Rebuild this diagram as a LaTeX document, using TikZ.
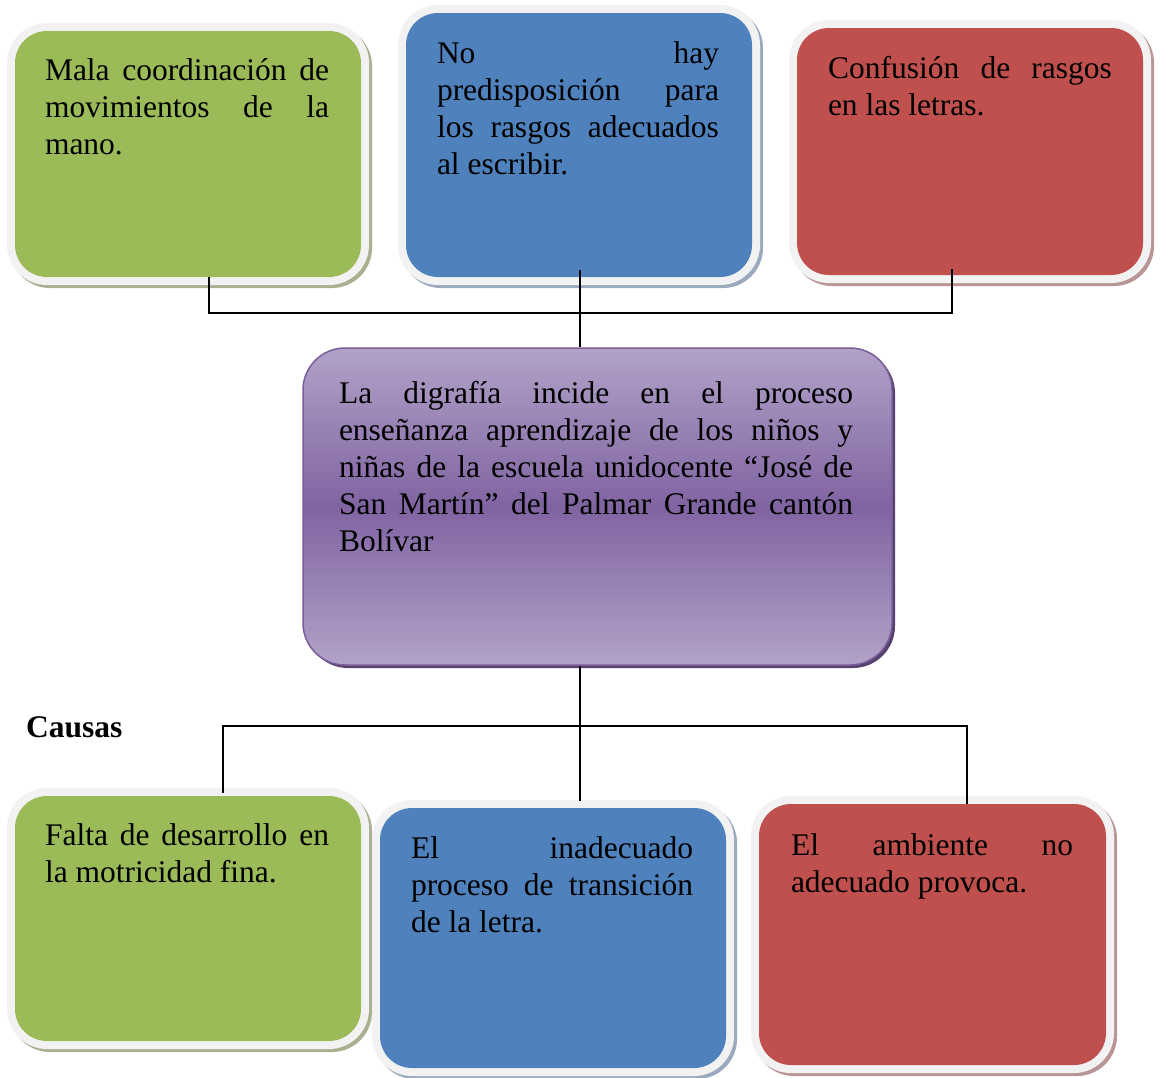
\documentclass[tikz,border=0pt]{standalone}
\usepackage{fontspec}
\setmainfont{Liberation Serif}
\definecolor{gr}{HTML}{9BBB59}
\definecolor{bl}{HTML}{4F81BD}
\definecolor{rd}{HTML}{C0504D}
\definecolor{halo}{HTML}{F2F2F2}
\definecolor{grs}{HTML}{A9B091}
\definecolor{bls}{HTML}{9AA9BE}
\definecolor{rds}{HTML}{BA9595}
\definecolor{pl}{HTML}{B2A2C8}
\definecolor{pd}{HTML}{8064A2}
\definecolor{pb}{HTML}{7A5E9A}
\definecolor{ps}{HTML}{57416F}
\newcommand\J[2]{\makebox[#1][s]{\spaceskip=.25em plus 1fil\relax #2}}
\newcommand\fs{\spaceskip=.25em\relax\xspaceskip=.25em\relax\rule{0pt}{30pt}}
\begin{document}
\begin{tikzpicture}[x=1pt,y=-1pt,
  card/.style 2 args={rectangle, rounded corners=32pt, inner sep=0pt, outer sep=0pt,
    fill=#1, minimum width=346pt,
    preaction={draw=#2, line width=16pt, transform canvas={shift={(3pt,-3pt)}}},
    preaction={draw=halo, line width=16pt}},
  txt/.style={anchor=north west, inner sep=0pt, outer sep=0pt, align=left,
    text width=#1, font=\fontsize{31.5}{37.3}\selectfont},
  conn/.style={draw=black, line width=1.4pt}]
\useasboundingbox (0,0) rectangle (1162,1077);

% top boxes
\node[card={gr}{grs}, minimum height=246pt] (tl) at (188,154) {};
\node[card={bl}{bls}, minimum height=264pt] (tm) at (579,145) {};
\node[card={rd}{rds}, minimum height=247pt] (tr) at (970,151.5) {};

\node[txt=284pt] (tlt) at (45,50) {\fs\J{284pt}{Mala coordinación de}\\\J{284pt}{movimientos de la}\\mano.};
\node[txt=282pt] (tmt) at (437,33) {\fs\J{282pt}{No hay}\\\J{282pt}{predisposición para}\\\J{282pt}{los rasgos adecuados}\\al escribir.};
\node[txt=284pt] (trt) at (828,48) {\fs\J{284pt}{Confusión de rasgos}\\en las letras.};

% central box
\node[rectangle, rounded corners=42pt, minimum width=589pt, minimum height=317pt,
  draw=pb, line width=1.5pt, top color=pl, bottom color=pl, middle color=pd,
  preaction={fill=ps, transform canvas={shift={(3pt,-3pt)}}}] (ctr) at (597.5,506.5) {};
\node[txt=514pt, font=\fontsize{31.5}{37}\selectfont] (ctrt) at (339,373) {\fs\J{514pt}{La digrafía incide en el proceso}\\\J{514pt}{enseñanza aprendizaje de los niños y}\\\J{514pt}{niñas de la escuela unidocente “José de}\\\J{514pt}{San Martín” del Palmar Grande cantón}\\Bolívar};

% label
\node[anchor=base west, inner sep=0pt, font=\fontsize{31.5}{37}\selectfont\bfseries] (causas) at (26,737) {Causas};

% bottom boxes
\node[card={gr}{grs}, minimum height=245pt] (bl) at (188,918.5) {};
\node[card={bl}{bls}, minimum height=260pt] (bm) at (553,938) {};
\node[card={rd}{rds}, minimum height=261pt, minimum width=347pt] (br) at (932.5,934.5) {};

\node[txt=284pt] (blt) at (45,815) {\fs\J{284pt}{Falta de desarrollo en}\\la motricidad fina.};
\node[txt=282pt] (bmt) at (411,828) {\fs\J{282pt}{El inadecuado}\\\J{282pt}{proceso de transición}\\de la letra.};
\node[txt=282pt] (brt) at (791,825) {\fs\J{282pt}{El ambiente no}\\adecuado provoca.};

% connectors
\coordinate (jt) at (580,313);
\coordinate (jb) at (580,726);
\draw[conn] ([xshift=21pt]tl.south) |- (jt) -| ([xshift=-18pt,yshift=6pt]tr.south);
\draw[conn] ([yshift=7pt]tm.south -| jt) -- (ctr.north -| jt);
\draw[conn] (ctr.south -| jb) -- ([yshift=7pt]bm.north -| jb);
\draw[conn] ([xshift=35pt,yshift=3pt]bl.north) |- (jb) -| ([xshift=34.5pt]br.north);
\end{tikzpicture}
\end{document}
